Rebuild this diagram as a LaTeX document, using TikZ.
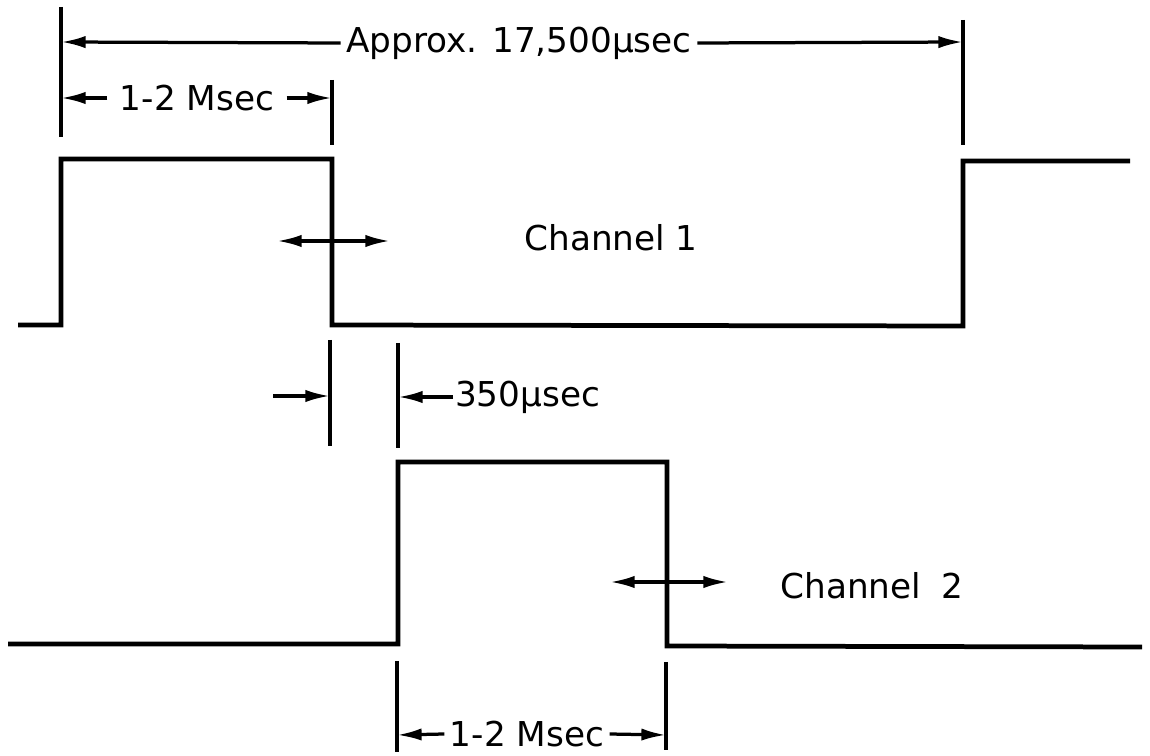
\documentclass[tikz,border=0pt]{standalone}
\usepackage{fontspec}
\setsansfont{DejaVu Sans}
\usepackage{tikz}
\usetikzlibrary{arrows.meta,positioning}

\begin{document}
\begin{tikzpicture}[x=0.02cm,y=-0.02cm]
\tikzstyle{wave}=[line width=.95mm,line join=miter]
\tikzstyle{dim}=[line width=.65mm]
\tikzstyle{dimarrow}=[line width=.65mm,-{Latex[length=14pt,width=7pt]}]
\tikzstyle{both}=[line width=.65mm,{Latex[length=14pt,width=7pt]}-{Latex[length=14pt,width=7pt]}]
\tikzstyle{lbl}=[font=\sffamily\fontsize{19.5}{22}\selectfont,inner sep=3pt]
\useasboundingbox (0,0) rectangle (1150,756);
    % channel 1
    \coordinate (a0) at (18,325);
    \coordinate (a1) at (61,325);
    \coordinate (a2) at (61,159);
    \coordinate (a3) at (332,159);
    \coordinate (a4) at (332,325);
    \coordinate (a5) at (963,326);
    \coordinate (a6) at (963,161);
    \coordinate (a7) at (1130,161);
    \draw[wave] (a0) -- (a1) -- (a2) -- (a3) -- (a4) -- (a5) -- (a6) -- (a7);
    % channel 2
    \coordinate (b0) at (8,644);
    \coordinate (b1) at (398,644);
    \coordinate (b2) at (398,462);
    \coordinate (b3) at (667,462);
    \coordinate (b4) at (667,646);
    \coordinate (b5) at (1142,647);
    \draw[wave] (b0) -- (b1) -- (b2) -- (b3) -- (b4) -- (b5);
    % period
    \draw[dim] (61,7) -- (61,137);
    \draw[dim] (963,20) -- (963,145);
    \node[lbl] (period) at (519,43) {Approx. 17,500μsec};
    \coordinate (p1) at (61,42);
    \coordinate (p2) at (963,42);
    \draw[dimarrow] (period.west) to (p1);
    \draw[dimarrow] (period.east) to (p2);
    % pulse width 1
    \draw[dim] (332,80) -- (332,145);
    \node[lbl,inner sep=7pt] (width1) at (197,98) {1-2 Msec};
    \coordinate (w1) at (61,98);
    \coordinate (w2) at (332,98);
    \draw[dimarrow] (width1.west) to (w1);
    \draw[dimarrow] (width1.east) to (w2);
    % jitter 1
    \coordinate (j1) at (277,241);
    \coordinate (j2) at (390,241);
    \draw[both] (j1) to (j2);
    \node[lbl] (ch1) at (611,238) {Channel\hspace{0.3em}1};
    % gap
    \draw[dim] (330,340) -- (330,446);
    \draw[dim] (398,343) -- (398,448);
    \coordinate (g0) at (273,396);
    \coordinate (g1) at (330,396);
    \coordinate (g2) at (398,397);
    \draw[dimarrow] (g0) to (g1);
    \node[lbl,inner sep=1pt,anchor=west] (gap) at (453,397) {350μsec};
    \draw[dimarrow] (gap.west) to (g2);
    % jitter 2
    \coordinate (k1) at (610,582);
    \coordinate (k2) at (728,582);
    \draw[both] (k1) to (k2);
    \node[lbl] (ch2) at (872,586) {Channel\hspace{0.6em}2};
    % pulse width 2
    \draw[dim] (397,661) -- (397,752);
    \draw[dim] (666,662) -- (666,750);
    \node[lbl] (width2) at (527,734) {1-2 Msec};
    \coordinate (v1) at (397,735);
    \coordinate (v2) at (666,735);
    \draw[dimarrow] (width2.west) to (v1);
    \draw[dimarrow] (width2.east) to (v2);
  \end{tikzpicture}
\end{document}
